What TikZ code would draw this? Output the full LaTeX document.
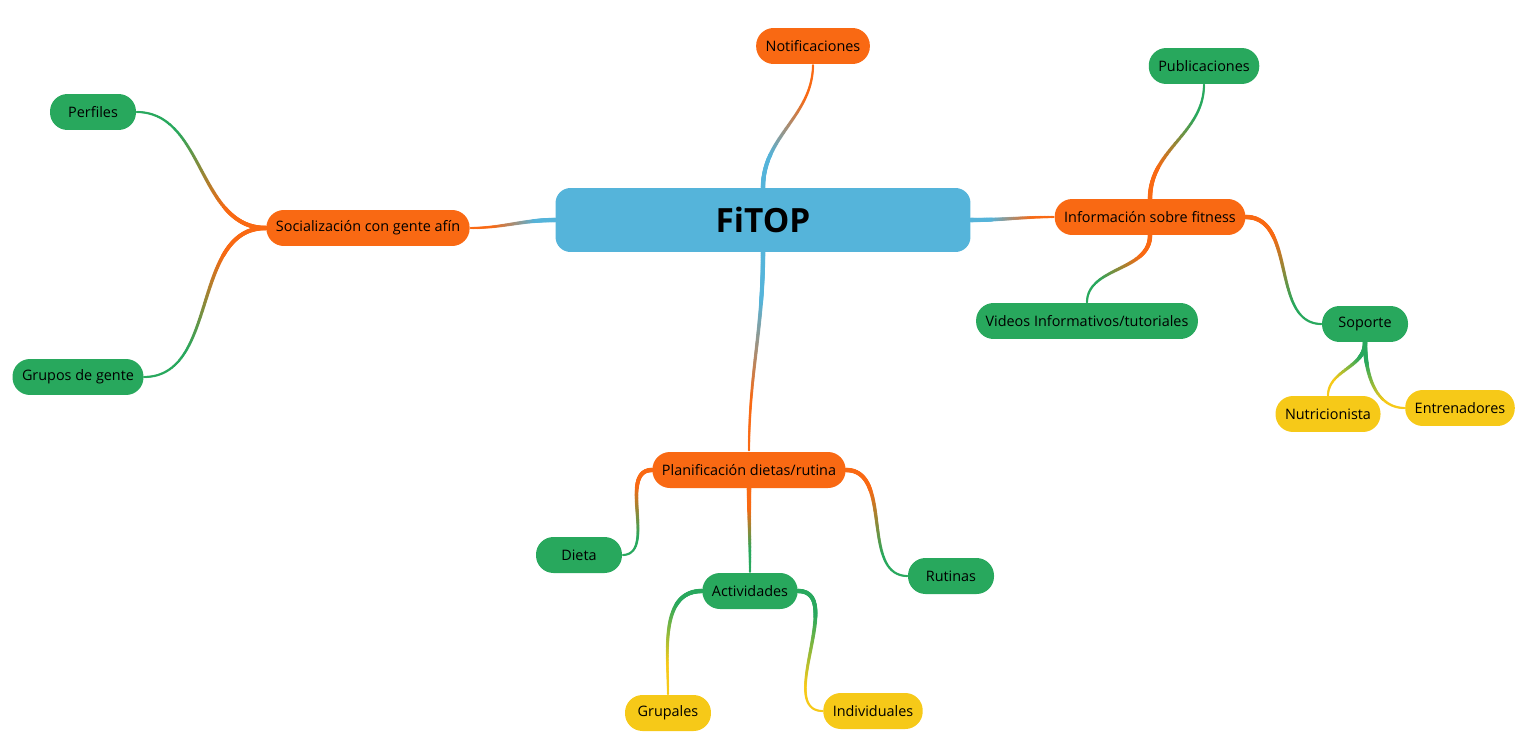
\documentclass[tikz,border=0pt]{standalone}
\usepackage{fontspec}
\setmainfont{Open Sans}
\usetikzlibrary{shapes,decorations.markings}
\definecolor{mmblue}{HTML}{55B4DA}
\definecolor{mmorange}{HTML}{F96913}
\definecolor{mmgreen}{HTML}{28A85D}
\definecolor{mmyellow}{HTML}{F6C918}
\tikzstyle{mmroot}=[rectangle, fill=mmblue, rounded corners=0.3cm, minimum height=1.28cm, minimum width=8.3cm, font=\fontsize{19}{22}\selectfont\bfseries]
\tikzstyle{mmnode}=[rectangle, rounded corners=0.35cm, minimum height=0.72cm, minimum width=1.72cm, inner xsep=0.19cm, font=\fontsize{8.2}{10}\selectfont]
\tikzstyle{mmmain}=[mmnode, fill=mmorange]
\tikzstyle{mmsub}=[mmnode, fill=mmgreen]
\tikzstyle{mmleaf}=[mmnode, fill=mmyellow]
\tikzset{link/.style 2 args={decorate, decoration={markings,
	mark=between positions 0 and 1 step 0.4pt with {
		\pgfmathsetmacro{\lkt}{\pgfkeysvalueof{/pgf/decoration/mark info/distance from start}/\pgfdecoratedpathlength}
		\pgfmathsetmacro{\lkp}{100*min(1,max(0,(\lkt-0.25)/0.5))}
		\pgfmathsetmacro{\lkr}{1.3-0.65*\lkt}
		\fill[#2!\lkp!#1] (0,0) circle (\lkr pt);}}}}
\newcommand{\mmroot}[3]{
	\node[mmroot] (#1) at (#2) {#3};}
\newcommand{\mmmain}[3]{
	\node[mmmain] (#1) at (#2) {#3};}
\newcommand{\mmsub}[3]{
	\node[mmsub] (#1) at (#2) {#3};}
\newcommand{\mmleaf}[3]{
	\node[mmleaf] (#1) at (#2) {#3};}

\begin{document}
\begin{tikzpicture}[x=0.02cm, y=0.02cm]
\useasboundingbox (0,0) rectangle (1525,752);
\mmroot{fitop}{763,532}{FiTOP}
\mmmain{notif}{813,706}{Notificaciones}
\mmmain{info}{1150,535}{Información sobre fitness}
\mmmain{social}{368,524}{Socialización con gente afín}
\mmmain{plan}{749,282}{Planificación dietas/rutina}
\mmsub{public}{1204,686}{Publicaciones}
\mmsub{videos}{1087,431}{Videos Informativos/tutoriales}
\mmsub{soporte}{1365,428}{Soporte}
\mmsub{perfiles}{93,640}{Perfiles}
\mmsub{grupos}{78,375}{Grupos de gente}
\mmsub{dieta}{579,197}{Dieta}
\mmsub{activ}{750,161}{Actividades}
\mmsub{rutinas}{951,176}{Rutinas}
\mmleaf{nutri}{1328,338}{Nutricionista}
\mmleaf{entren}{1460,344}{Entrenadores}
\mmleaf{grupales}{668,39}{Grupales}
\mmleaf{individ}{873,41}{Individuales}
\path (fitop.north) edge[link={mmblue}{mmorange}, out=90, in=-90] (notif.south);
\path (fitop.east) edge[link={mmblue}{mmorange}, out=0, in=180] (info.west);
\path (fitop.west) edge[link={mmblue}{mmorange}, out=180, in=0] (social.east);
\path (fitop.south) edge[link={mmblue}{mmorange}, out=-90, in=90] (plan.north);
\path (info.north) edge[link={mmorange}{mmgreen}, out=90, in=-90] (public.south);
\path (info.south) edge[link={mmorange}{mmgreen}, out=-90, in=90] (videos.north);
\path (info.east) edge[link={mmorange}{mmgreen}, out=0, in=180] (soporte.west);
\path (soporte.south) edge[link={mmgreen}{mmyellow}, out=-90, in=90] (nutri.north);
\path (soporte.south) edge[link={mmgreen}{mmyellow}, out=-90, in=180] (entren.west);
\path (social.west) edge[link={mmorange}{mmgreen}, out=180, in=0] (perfiles.east);
\path (social.west) edge[link={mmorange}{mmgreen}, out=180, in=0] (grupos.east);
\path (plan.west) edge[link={mmorange}{mmgreen}, out=180, in=0] (dieta.east);
\path (plan.south) edge[link={mmorange}{mmgreen}, out=-90, in=90] (activ.north);
\path (plan.east) edge[link={mmorange}{mmgreen}, out=0, in=180] (rutinas.west);
\path (activ.west) edge[link={mmgreen}{mmyellow}, out=180, in=90] (grupales.north);
\path (activ.east) edge[link={mmgreen}{mmyellow}, out=0, in=180] (individ.west);
\end{tikzpicture}
\end{document}
